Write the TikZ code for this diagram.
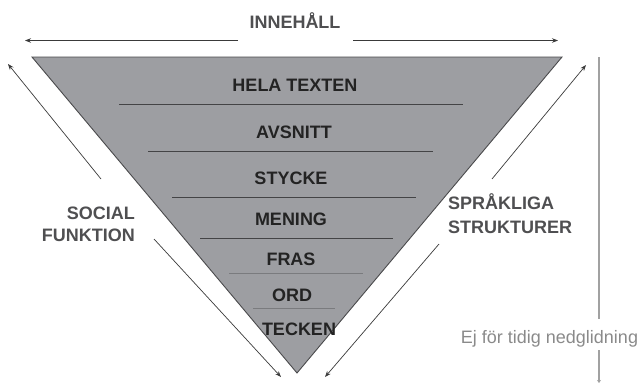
\documentclass[tikz,border=0pt]{standalone}
\usepackage{fontspec}
\setmainfont{Liberation Sans}
\usetikzlibrary{arrows.meta}
\definecolor{trifill}{HTML}{9D9EA2}
\definecolor{triedge}{HTML}{4A4A4C}
\definecolor{levelline}{HTML}{444446}
\definecolor{softline}{HTML}{7A7B7E}
\definecolor{leveltext}{HTML}{232323}
\definecolor{sidetext}{HTML}{4F4F51}
\definecolor{arrowline}{HTML}{3A3A3A}
\definecolor{notegray}{HTML}{8A8A8A}
\begin{document}
\begin{tikzpicture}[x=1pt,y=-1pt,
  leveltxt/.style={font=\fontsize{18}{22}\selectfont\bfseries, text=leveltext, inner sep=0pt, anchor=base},
  sidetxt/.style={font=\fontsize{18}{22}\selectfont\bfseries, text=sidetext, inner sep=0pt, anchor=base},
  notetxt/.style={font=\fontsize{18}{22}\selectfont, text=notegray, inner sep=0pt, anchor=base},
  levelrule/.style={draw=levelline, line width=0.9pt},
  softrule/.style={draw=softline, line width=0.7pt},
  flow/.style={draw=arrowline, line width=0.7pt, -{Stealth[length=6pt,width=4.5pt]}},
  notearrow/.style={draw=notegray!80, line width=1.1pt},
]
\useasboundingbox (0,0) rectangle (643,386);

% inverted triangle
\coordinate (tl) at (32,57);
\coordinate (tr) at (562,57);
\coordinate (apex) at (297,373);
\fill[trifill, draw=triedge, line width=0.9pt, line join=miter] (tl) -- (tr) -- (apex) -- cycle;

% level separators
\coordinate (l1a) at (119,104); \coordinate (l1b) at (463,104);
\coordinate (l2a) at (148,151); \coordinate (l2b) at (433,151);
\coordinate (l3a) at (172,197); \coordinate (l3b) at (416,197);
\coordinate (l4a) at (200,238); \coordinate (l4b) at (393,238);
\coordinate (l5a) at (229,273); \coordinate (l5b) at (363,273);
\coordinate (l6a) at (253,308); \coordinate (l6b) at (335,308);
\draw[levelrule] (l1a) -- (l1b);
\draw[levelrule] (l2a) -- (l2b);
\draw[levelrule] (l3a) -- (l3b);
\draw[levelrule] (l4a) -- (l4b);
\draw[softrule] (l5a) -- (l5b);
\draw[softrule] (l6a) -- (l6b);

% level labels
\node[leveltxt] (hela)    at (295,91.5)  {HELA TEXTEN};
\node[leveltxt] (avsnitt) at (294,138.5) {AVSNITT};
\node[leveltxt] (stycke)  at (291,184.5) {STYCKE};
\node[leveltxt] (mening)  at (291,225.5) {MENING};
\node[leveltxt] (fras)    at (291,265.5) {FRAS};
\node[leveltxt] (ord)     at (292,301.5) {ORD};
\node[leveltxt] (tecken)  at (299,335.5) {TECKEN};

% content axis
\node[sidetxt] (innehall) at (295,28.5) {INNEHÅLL};
\coordinate (inL) at (25,40.5);
\coordinate (inLgap) at (238,40.5);
\coordinate (inRgap) at (353,40.5);
\coordinate (inR) at (558,40.5);
\draw[flow] (inLgap) -- (inL);
\draw[flow] (inRgap) -- (inR);

% social function axis
\node[sidetxt, anchor=base east] (social) at (135,219.5) {SOCIAL};
\node[sidetxt, anchor=base east] (funktion) at (135,241.5) {FUNKTION};
\coordinate (sfTop) at (8,64);
\coordinate (sfTopTail) at (101,179);
\coordinate (sfLowTail) at (154,239);
\coordinate (sfBottom) at (281,377);
\draw[flow] (sfTopTail) -- (sfTop);
\draw[flow] (sfLowTail) -- (sfBottom);

% linguistic structures axis
\node[sidetxt, anchor=base west] (sprakliga) at (448,209.5) {SPRÅKLIGA};
\node[sidetxt, anchor=base west] (strukturer) at (448,233.5) {STRUKTURER};
\coordinate (lsTop) at (586,65);
\coordinate (lsTopTail) at (492,179);
\coordinate (lsLowTail) at (439,244);
\coordinate (lsBottom) at (325,377);
\draw[flow] (lsTopTail) -- (lsTop);
\draw[flow] (lsLowTail) -- (lsBottom);

% note on the right
\node[notetxt] (note) at (549.5,343) {Ej för tidig nedglidning};
\coordinate (ntTop) at (599,57);
\coordinate (ntGapA) at (599,319);
\coordinate (ntGapB) at (599,350);
\coordinate (ntEnd) at (599,383);
\draw[notearrow] (ntTop) -- (ntGapA);
\draw[notearrow, -{Stealth[length=3pt,width=4pt]}] (ntGapB) -- (ntEnd);
\end{tikzpicture}
\end{document}
